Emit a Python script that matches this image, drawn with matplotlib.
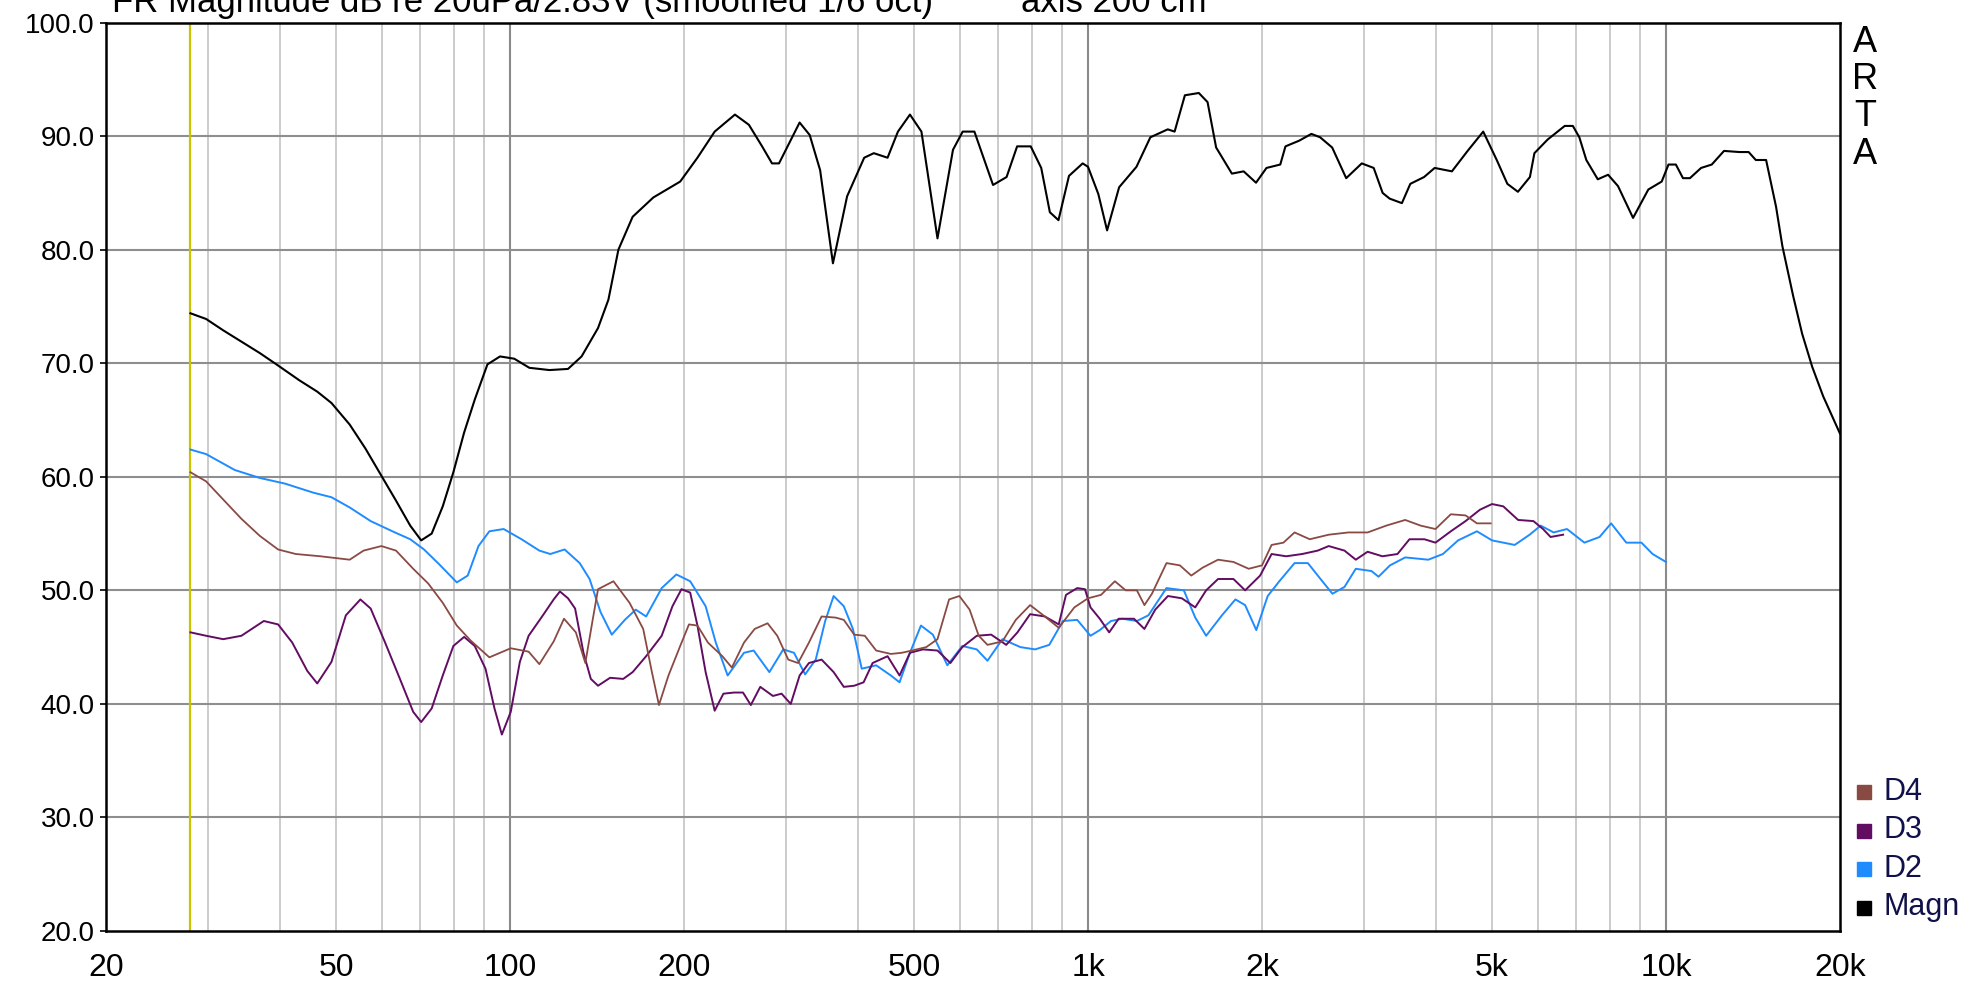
import matplotlib

matplotlib.use("Agg")
import matplotlib.pyplot as plt
from matplotlib.patches import Rectangle

plt.rcParams["font.family"] = ["Liberation Sans", "DejaVu Sans"]

# --- data (frequency in Hz, level in dB) ---
magn_f = [28, 29.8, 31.9, 34.3, 36.9, 39.7, 43.2, 46.4, 49.1, 52.8, 56.2, 59.9,
          63.5, 67.2, 70.2, 73.2, 76.5, 79.8, 83.3, 86.9, 91.4, 96.1, 101.7, 108,
          117, 126, 133, 142, 148, 154, 163, 177, 197, 211, 226, 245, 259, 273,
          284, 292, 317, 330, 344, 362, 383, 410, 426, 450, 469, 492, 515, 549,
          584, 607, 636, 685, 723, 754, 796, 830, 859, 889, 927, 979, 1000, 1042,
          1079, 1132, 1213, 1282, 1374, 1412, 1471, 1555, 1610, 1666, 1774, 1859,
          1953, 2036, 2151, 2196, 2319, 2435, 2521, 2645, 2797, 2976, 3121, 3234,
          3325, 3492, 3611, 3815, 3979, 4262, 4537, 4828, 5095, 5315, 5544, 5815,
          5920, 6240, 6680, 6900, 7080, 7280, 7620, 7940, 8260, 8770, 9320, 9830,
          10100, 10400, 10700, 11000, 11500, 12000, 12600, 13400, 13900, 14300,
          14900, 15500, 15900, 16600, 17200, 17900, 18700, 19400, 20000]
magn_db = [74.4, 73.9, 72.9, 71.9, 70.9, 69.8, 68.5, 67.5, 66.5, 64.6, 62.5, 60.1,
           57.9, 55.7, 54.4, 55.0, 57.4, 60.4, 63.9, 66.8, 69.9, 70.6, 70.4, 69.6,
           69.4, 69.5, 70.6, 73.1, 75.6, 80.0, 82.9, 84.6, 86.0, 88.1, 90.4, 91.9,
           91.0, 89.1, 87.6, 87.6, 91.2, 90.1, 87.0, 78.8, 84.7, 88.1, 88.5, 88.1,
           90.4, 91.9, 90.4, 81.0, 88.8, 90.4, 90.4, 85.7, 86.4, 89.1, 89.1, 87.2,
           83.3, 82.6, 86.5, 87.6, 87.3, 84.9, 81.7, 85.5, 87.3, 89.9, 90.6, 90.4,
           93.6, 93.8, 93.0, 89.0, 86.7, 86.9, 85.9, 87.2, 87.5, 89.1, 89.6, 90.2,
           89.9, 89.0, 86.3, 87.6, 87.2, 85.0, 84.5, 84.1, 85.8, 86.4, 87.2, 86.9,
           88.7, 90.4, 87.9, 85.8, 85.1, 86.4, 88.5, 89.7, 90.9, 90.9, 89.9, 87.9,
           86.2, 86.6, 85.6, 82.8, 85.3, 86.0, 87.5, 87.5, 86.3, 86.3, 87.2, 87.5,
           88.7, 88.6, 88.6, 87.9, 87.9, 83.8, 80.3, 75.9, 72.6, 69.7, 67.1, 65.3,
           63.8]

d2_f = [28, 29.8, 33.4, 36.9, 40.8, 45.7, 49.1, 52.8, 57.4, 62.6, 67.2, 71, 75.4,
        80.9, 84.5, 88.2, 92.1, 97.5, 104.7, 112.4, 117.4, 124.3, 132, 137.3,
        143.4, 150, 158, 165, 172, 183, 194, 205, 218, 227, 238, 254, 264, 281,
        297, 310, 324, 338, 351, 363, 378, 392, 406, 430, 456, 472, 492, 514, 539,
        571, 606, 642, 670, 711, 764, 810, 857, 905, 958, 1010, 1048, 1096, 1146,
        1215, 1272, 1367, 1465, 1533, 1601, 1705, 1799, 1870, 1955, 2046, 2143,
        2277, 2401, 2525, 2648, 2778, 2906, 3093, 3182, 3330, 3538, 3880, 4112,
        4368, 4709, 5000, 5473, 5808, 6070, 6392, 6741, 7225, 7675, 8036, 8537,
        9068, 9480, 10000]
d2_db = [62.4, 62.0, 60.6, 59.9, 59.4, 58.6, 58.2, 57.3, 56.1, 55.2, 54.5, 53.6,
         52.3, 50.7, 51.3, 53.9, 55.2, 55.4, 54.5, 53.5, 53.2, 53.6, 52.4, 51.0,
         48.1, 46.1, 47.4, 48.3, 47.7, 50.2, 51.4, 50.8, 48.6, 45.4, 42.5, 44.5,
         44.7, 42.8, 44.8, 44.5, 42.6, 43.9, 47.3, 49.5, 48.6, 46.6, 43.1, 43.4,
         42.5, 41.9, 44.5, 46.9, 46.1, 43.4, 45.1, 44.8, 43.8, 45.7, 45.0, 44.8,
         45.2, 47.3, 47.4, 46.0, 46.5, 47.3, 47.5, 47.3, 47.8, 50.2, 50.0, 47.6,
         46.0, 47.8, 49.2, 48.7, 46.5, 49.5, 50.8, 52.4, 52.4, 51.0, 49.7, 50.3,
         51.9, 51.7, 51.2, 52.2, 52.9, 52.7, 53.2, 54.4, 55.2, 54.4, 54.0, 54.9,
         55.7, 55.1, 55.4, 54.2, 54.7, 55.9, 54.2, 54.2, 53.2, 52.5]

d3_f = [28, 29.8, 31.9, 34.3, 37.5, 39.7, 42, 44.6, 46.4, 49.1, 52, 55.1, 57.4,
        60.8, 64.5, 68, 70.2, 73.2, 76.5, 79.8, 83.3, 86.9, 90.7, 94, 96.8, 100.3,
        104, 107.7, 114, 119, 122, 126, 129.6, 134, 138, 142, 149, 157, 163, 172,
        183, 191, 198, 205, 211, 218, 226, 234, 244, 253, 261, 271, 285, 295, 306,
        317, 329, 346, 363, 378, 394, 409, 424, 450, 472, 492, 518, 549, 578, 606,
        642, 680, 722, 755, 794, 842, 890, 916, 958, 988, 1010, 1048, 1088, 1130,
        1201, 1252, 1307, 1375, 1453, 1533, 1601, 1679, 1785, 1870, 1985, 2078,
        2202, 2347, 2497, 2609, 2778, 2906, 3046, 3231, 3431, 3599, 3820, 3992,
        4243, 4500, 4765, 5000, 5229, 5548, 5896, 6127, 6314, 6637]
d3_db = [46.3, 46.0, 45.7, 46.0, 47.3, 47.0, 45.4, 42.9, 41.8, 43.7, 47.8, 49.2,
         48.4, 45.4, 42.2, 39.3, 38.4, 39.6, 42.5, 45.1, 45.9, 45.1, 43.1, 39.6,
         37.3, 39.3, 43.7, 46.0, 47.8, 49.2, 49.9, 49.3, 48.4, 44.5, 42.2, 41.6,
         42.3, 42.2, 42.8, 44.2, 46.0, 48.6, 50.1, 49.8, 46.9, 42.8, 39.4, 40.9,
         41.0, 41.0, 39.9, 41.5, 40.7, 40.9, 40.0, 42.5, 43.6, 43.9, 42.8, 41.5,
         41.6, 41.9, 43.6, 44.2, 42.5, 44.5, 44.8, 44.7, 43.6, 45.0, 46.0, 46.1,
         45.2, 46.3, 47.9, 47.7, 47.0, 49.6, 50.2, 50.1, 48.5, 47.5, 46.3, 47.5,
         47.5, 46.6, 48.3, 49.5, 49.3, 48.5, 50.0, 51.0, 51.0, 50.0, 51.3, 53.2,
         53.0, 53.2, 53.5, 53.9, 53.5, 52.7, 53.4, 53.0, 53.2, 54.5, 54.5, 54.2,
         55.2, 56.1, 57.1, 57.6, 57.4, 56.2, 56.1, 55.4, 54.7, 54.9]

d4_f = [28, 29.8, 31.9, 34.3, 36.9, 39.7, 42.6, 47.0, 52.8, 55.8, 59.9, 63.5, 68,
        72.2, 76.5, 80.9, 85.4, 92.1, 100.3, 107.7, 112.4, 119, 124, 130, 135, 139,
        142, 151, 161, 170, 176, 181, 188, 197, 204, 211, 220, 233, 242, 254, 265,
        279, 290, 303, 315, 329, 346, 366, 378, 394, 411, 430, 456, 476, 496, 525,
        549, 575, 599, 624, 647, 670, 711, 750, 794, 842, 890, 947, 1000, 1053,
        1113, 1162, 1215, 1252, 1290, 1367, 1442, 1509, 1579, 1679, 1785, 1897,
        2000, 2078, 2178, 2277, 2419, 2609, 2821, 3046, 3281, 3538, 3763, 3992,
        4243, 4500, 4709, 4973]
d4_db = [60.4, 59.6, 58.0, 56.3, 54.8, 53.6, 53.2, 53.0, 52.7, 53.5, 53.9, 53.5,
         51.9, 50.6, 48.9, 46.9, 45.6, 44.1, 44.9, 44.6, 43.5, 45.5, 47.5, 46.3,
         43.6, 47.4, 50.1, 50.8, 48.9, 46.6, 42.8, 39.9, 42.5, 45.1, 47.0, 46.9,
         45.4, 44.2, 43.2, 45.4, 46.6, 47.1, 46.0, 43.9, 43.6, 45.4, 47.7, 47.6,
         47.4, 46.1, 46.0, 44.7, 44.4, 44.5, 44.7, 45.0, 45.7, 49.2, 49.5, 48.3,
         46.0, 45.2, 45.5, 47.4, 48.7, 47.7, 46.7, 48.5, 49.3, 49.6, 50.8, 50.0,
         50.0, 48.7, 49.7, 52.4, 52.2, 51.3, 52.0, 52.7, 52.5, 51.9, 52.2, 54.0,
         54.2, 55.1, 54.5, 54.9, 55.1, 55.1, 55.7, 56.2, 55.7, 55.4, 56.7, 56.6,
         55.9, 55.9]

marker_f = 28
x_ticks = [20, 50, 100, 200, 500, 1000, 2000, 5000, 10000, 20000]
x_labels = ["20", "50", "100", "200", "500", "1k", "2k", "5k", "10k", "20k"]
y_ticks = [20, 30, 40, 50, 60, 70, 80, 90, 100]
legend_names = ["D4", "D3", "D2", "Magn"]

COL_MAGN = "#000000"
COL_D2 = "#1e8cff"
COL_D3 = "#620c62"
COL_D4 = "#8a4a44"

W, H = 1965, 986
fig = plt.figure(figsize=(W / 100, H / 100), dpi=100)
ax = fig.add_axes([106 / W, 1 - 931 / H, (1840 - 106) / W, (931 - 22.6) / H])

ax.set_xscale("log")
ax.set_xlim(20, 20000)
ax.set_ylim(20, 100)

# grid: decades darker, the rest light
for dec in (10, 100, 1000):
    for k in range(1, 10):
        f = dec * k
        if f <= 20 or f >= 20000:
            continue
        if k == 1:
            ax.axvline(f, color="#8a8a8a", lw=1.5, zorder=1)
        else:
            ax.axvline(f, color="#c8c8c8", lw=1.3, zorder=1)
ax.axvline(10000, color="#8a8a8a", lw=1.5, zorder=1)
for y in y_ticks[1:-1]:
    ax.axhline(y, color="#8e8e8e", lw=1.5, zorder=1)

ax.axvline(marker_f, color="#c8c400", lw=1.6, zorder=2)

ax.plot(d2_f, d2_db, color=COL_D2, lw=1.4, zorder=3)
ax.plot(d3_f, d3_db, color=COL_D3, lw=1.4, zorder=4)
ax.plot(d4_f, d4_db, color=COL_D4, lw=1.3, zorder=5)
ax.plot(magn_f, magn_db, color=COL_MAGN, lw=1.5, zorder=6)

ax.set_xticks(x_ticks)
ax.set_xticklabels(x_labels)
ax.xaxis.set_minor_locator(matplotlib.ticker.NullLocator())
ax.set_yticks(y_ticks)
ax.set_yticklabels([f"{v:.1f}" for v in y_ticks])
ax.tick_params(axis="x", length=0, pad=16, labelsize=23)
ax.tick_params(axis="y", length=4, width=1.2, pad=4, labelsize=20)

for side in ax.spines.values():
    side.set_linewidth(1.8)
    side.set_color("black")

# header line, cut off at the top edge like the original screenshot
fig.text(112 / W, 1 - 12 / H, "FR Magnitude dB re 20uPa/2.83V (smoothed 1/6 oct)",
         fontsize=25, va="baseline", ha="left")
fig.text(1021 / W, 1 - 12 / H, "axis 200 cm", fontsize=25, va="baseline", ha="left")

for i, ch in enumerate("ARTA"):
    fig.text(1865 / W, 1 - (42 + 37.4 * i) / H, ch, fontsize=26,
             ha="center", va="center")

legend_cols = [COL_D4, COL_D3, COL_D2, COL_MAGN]
for i, (name, col) in enumerate(zip(legend_names, legend_cols)):
    yc = 792 + 38.5 * i
    fig.add_artist(Rectangle(((1864 - 7) / W, 1 - (yc + 7) / H), 14 / W, 14 / H,
                             transform=fig.transFigure, color=col))
    fig.text(1884 / W, 1 - yc / H, name, fontsize=22, ha="left", va="center",
             color="#10104a")

fig.savefig("out.png", dpi=100)
